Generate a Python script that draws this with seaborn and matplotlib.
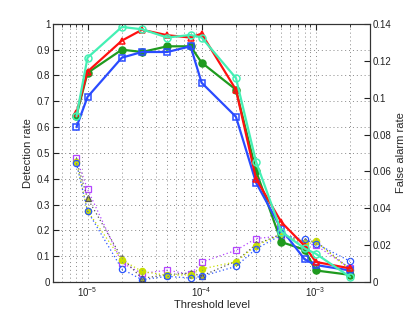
import numpy as np
import pandas as pd
import matplotlib
matplotlib.use('Agg')
import matplotlib.pyplot as plt
import matplotlib.ticker as mticker
import seaborn as sns

sns.set_style('white')
plt.rcParams['font.family'] = ['Liberation Sans', 'DejaVu Sans']
plt.rcParams['mathtext.fontset'] = 'custom'
plt.rcParams['mathtext.rm'] = 'Liberation Sans'

# threshold levels
thr = [8e-6, 1e-5, 2e-5, 3e-5, 5e-5, 8e-5, 1e-4, 2e-4, 3e-4, 5e-4, 8e-4, 1e-3, 2e-3]

# detection rate (left axis)
det_red = [0.655, 0.815, 0.935, 0.977, 0.956, 0.947, 0.962, 0.745, 0.40, 0.232, 0.14, 0.078, 0.053]
det_green = [0.645, 0.81, 0.90, 0.891, 0.913, 0.913, 0.85, 0.745, 0.43, 0.155, 0.125, 0.045, 0.028]
det_blue = [0.60, 0.717, 0.869, 0.891, 0.891, 0.913, 0.772, 0.64, 0.385, 0.205, 0.088, 0.066, 0.045]
det_cyan = [0.642, 0.869, 0.988, 0.979, 0.947, 0.957, 0.947, 0.79, 0.466, 0.195, 0.13, 0.11, 0.02]

# false alarm rate (right axis)
fa_purple = [0.0671, 0.0503, 0.0104, 0.0047, 0.0064, 0.0042, 0.0108, 0.0172, 0.0236, 0.025, 0.021, 0.020, 0.0075]
fa_gray = [0.0656, 0.0454, 0.0131, 0.002, 0.004, 0.0049, 0.0033, 0.0113, 0.0204, 0.026, 0.022, 0.0222, 0.0071]
fa_yellow = [0.065, 0.0385, 0.012, 0.0058, 0.0036, 0.004, 0.0071, 0.011, 0.0198, 0.026, 0.021, 0.022, 0.0066]
fa_blue = [0.0644, 0.0385, 0.0071, 0.0013, 0.0031, 0.0022, 0.0031, 0.0085, 0.018, 0.0255, 0.0231, 0.0209, 0.0113]

fig = plt.figure(figsize=(4.09, 3.18), dpi=100)
ax = fig.add_axes([0.13, 0.113, 0.775, 0.812])
ax2 = ax.twinx()

# dotted false alarm curves (twin axis)
fa_series = [
    (fa_purple, '#b444ff', 's', 'none'),
    (fa_gray, '#555555', '^', '#b8c020'),
    (fa_yellow, '#c8e000', 'o', '#c8e000'),
    (fa_blue, '#2a55ff', 'o', 'none'),
]
for vals, col, mk, fc in fa_series:
    sns.lineplot(x=thr, y=vals, ax=ax2, color=col, linestyle=(0, (1, 2)), linewidth=0.9,
                 marker=mk, markersize=4.5, markerfacecolor=fc, markeredgecolor=col,
                 markeredgewidth=0.9)

det_series = [
    (det_green, '#1f9a1f', 'o', '#1f9a1f'),
    (det_blue, '#2a4bff', 's', 'none'),
    (det_red, '#ff1010', '^', 'none'),
    (det_cyan, '#44f0b4', 'o', 'none'),
]
for vals, col, mk, fc in det_series:
    sns.lineplot(x=thr, y=vals, ax=ax, color=col, linewidth=1.6,
                 marker=mk, markersize=5, markerfacecolor=fc, markeredgecolor=col,
                 markeredgewidth=1.1)

ax.set_xscale('log')
ax.set_xlim(5e-6, 3e-3)
ax.set_ylim(0, 1)
ax2.set_ylim(0, 0.14)
ax.set_yticks(np.arange(0, 1.01, 0.1))
ax2.set_yticks(np.arange(0, 0.141, 0.02))
fmt = mticker.FuncFormatter(lambda v, p: '%g' % round(v, 3))
ax.yaxis.set_major_formatter(fmt)
ax2.yaxis.set_major_formatter(fmt)

ax.grid(True, which='major', axis='both', linestyle=(0, (1, 3)), color='#888888', linewidth=0.7)
ax.grid(True, which='minor', axis='x', linestyle=(0, (1, 3)), color='#888888', linewidth=0.7)
ax.set_zorder(ax2.get_zorder() + 1)
ax.patch.set_visible(False)

for a in (ax, ax2):
    for s in a.spines.values():
        s.set_color('#333333')
        s.set_linewidth(0.8)
ax.tick_params(axis='both', which='both', direction='in', labelsize=7, colors='#222222', top=True, pad=2)
ax.tick_params(axis='y', right=False)
ax.tick_params(which='major', length=4)
ax.tick_params(which='minor', length=2)
ax2.tick_params(axis='y', direction='in', labelsize=7, colors='#222222', length=4, pad=2)

ax.set_xlabel('Threshold level', fontsize=8, labelpad=1)
ax.set_ylabel('Detection rate', fontsize=8, labelpad=3)
ax2.set_ylabel('False alarm rate', fontsize=8, labelpad=3)

fig.savefig('out.png', dpi=100)
